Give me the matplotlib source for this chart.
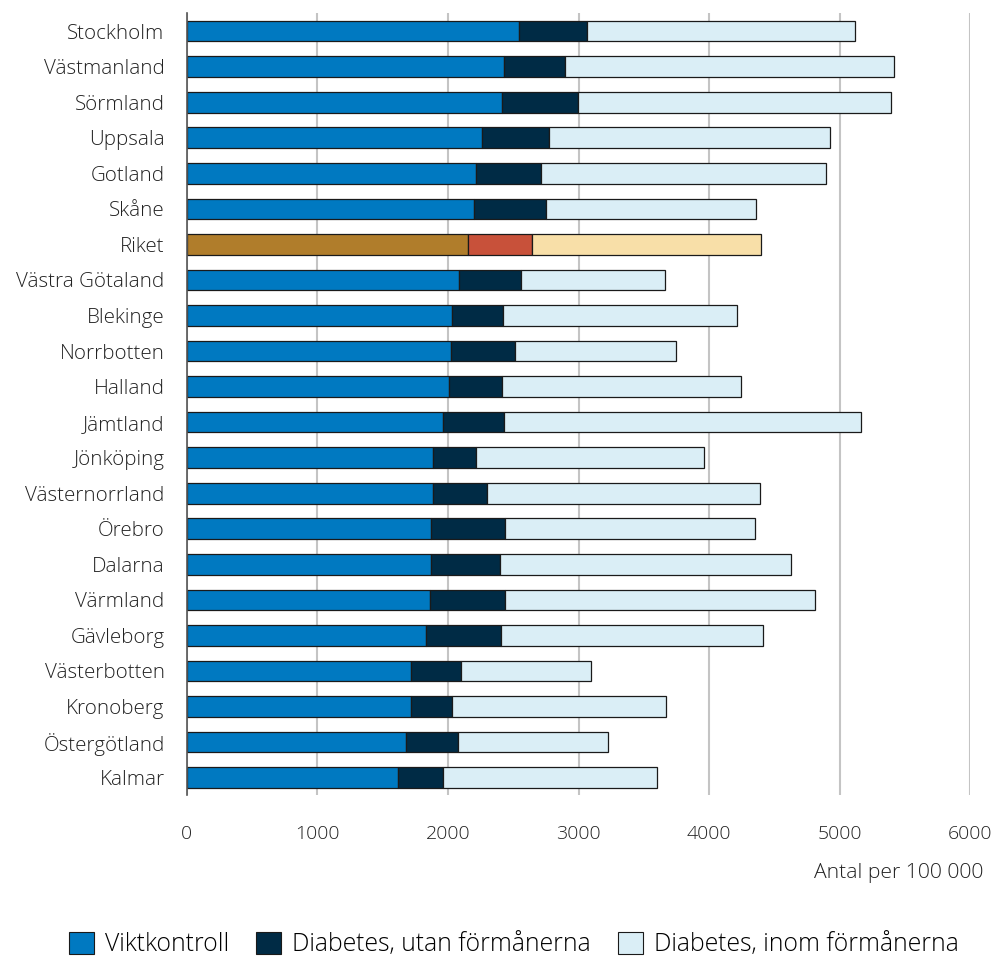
import matplotlib
matplotlib.use("Agg")
import matplotlib.pyplot as plt
import numpy as np
from matplotlib.patches import Patch

plt.rcParams['font.family'] = ['Open Sans', 'DejaVu Sans']
plt.rcParams['font.weight'] = 'light'

regions = ["Stockholm", "Västmanland", "Sörmland", "Uppsala", "Gotland", "Skåne",
           "Riket", "Västra Götaland", "Blekinge", "Norrbotten", "Halland", "Jämtland",
           "Jönköping", "Västernorrland", "Örebro", "Dalarna", "Värmland", "Gävleborg",
           "Västerbotten", "Kronoberg", "Östergötland", "Kalmar"]

# cumulative end points
viktkontroll = [2544, 2429, 2414, 2260, 2215, 2199, 2153, 2084, 2031, 2023, 2008, 1962,
                1885, 1885, 1870, 1870, 1862, 1831, 1716, 1716, 1678, 1617]
utan_end = [3065, 2897, 2996, 2774, 2713, 2751, 2644, 2559, 2421, 2513, 2414, 2429,
            2215, 2299, 2437, 2398, 2437, 2406, 2100, 2031, 2077, 1962]
inom_end = [5119, 5418, 5395, 4927, 4897, 4360, 4398, 3663, 4215, 3747, 4245, 5165,
            3962, 4391, 4352, 4628, 4812, 4414, 3096, 3670, 3226, 3602]

vikt = np.array(viktkontroll)
utan = np.array(utan_end) - vikt
inom = np.array(inom_end) - np.array(utan_end)

c_vikt, c_utan, c_inom = "#0079c1", "#002b45", "#daeef6"
r_vikt, r_utan, r_inom = "#b07d2b", "#c8513a", "#f8dfa8"

fig = plt.figure(figsize=(9.94, 9.56), dpi=100)
ax = fig.add_axes([0.188, 0.168, 0.788, 0.818])

y = np.arange(len(regions))
for i, name in enumerate(regions):
    if name == "Riket":
        cols = (r_vikt, r_utan, r_inom)
    else:
        cols = (c_vikt, c_utan, c_inom)
    ax.barh(i, vikt[i], height=0.58, color=cols[0], edgecolor="#1a1a1a", linewidth=0.9, zorder=3)
    ax.barh(i, utan[i], left=vikt[i], height=0.58, color=cols[1], edgecolor="#1a1a1a",
            linewidth=0.9, zorder=3)
    ax.barh(i, inom[i], left=utan_end[i], height=0.58, color=cols[2], edgecolor="#1a1a1a",
            linewidth=0.9, zorder=3)

ax.set_ylim(len(regions) - 0.5, -0.5)
ax.set_xlim(0, 6000)
ax.set_yticks(y)
ax.set_yticklabels(regions, fontsize=14.8, color="#222222")
ax.set_xticks(np.arange(0, 6001, 1000))
ax.set_xticklabels([str(v) for v in range(0, 6001, 1000)], fontsize=14, color="#222222")
ax.tick_params(axis="both", length=0)
ax.tick_params(axis="x", pad=21)
ax.tick_params(axis="y", pad=16)
ax.grid(axis="x", color="#c4c4c4", linewidth=1.5, zorder=0)
for s in ["top", "right", "bottom"]:
    ax.spines[s].set_visible(False)
ax.spines["left"].set_color("#555555")
ax.spines["left"].set_linewidth(1.2)
ax.spines["left"].set_zorder(4)

fig.text(0.989, 0.087, "Antal per 100 000", ha="right", va="center", fontsize=15.2, color="#222222")

handles = [Patch(facecolor=c_vikt, edgecolor="#1a1a1a", linewidth=0.8, label="Viktkontroll"),
           Patch(facecolor=c_utan, edgecolor="#1a1a1a", linewidth=0.8, label="Diabetes, utan förmånerna"),
           Patch(facecolor=c_inom, edgecolor="#1a1a1a", linewidth=0.8, label="Diabetes, inom förmånerna")]
fig.legend(handles=handles, loc="center", bbox_to_anchor=(0.517, 0.012), ncol=3, frameon=False,
           fontsize=17.8, handlelength=1.0, handleheight=1.0, handletextpad=0.45, columnspacing=1.1)

fig.savefig("out.png", dpi=100)
